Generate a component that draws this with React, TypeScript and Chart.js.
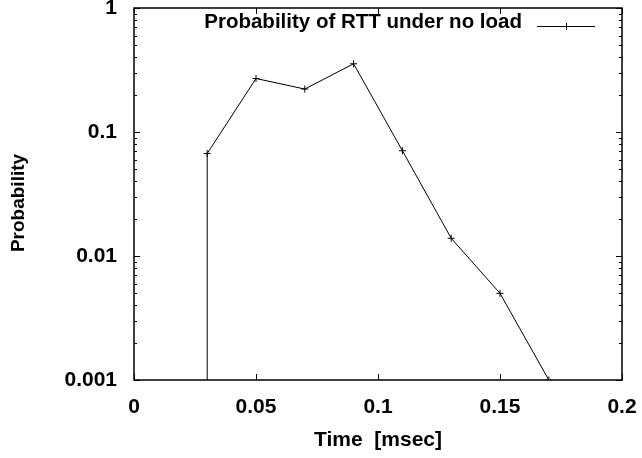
import React, { useEffect, useRef } from "react";
import { Chart, registerables } from "chart.js";

Chart.register(...registerables);

// Data
const times = [0.03, 0.03, 0.05, 0.07, 0.09, 0.11, 0.13, 0.15, 0.17];
const probabilities = [0.0001, 0.067, 0.27, 0.222, 0.355, 0.0706, 0.0139, 0.005, 0.001];
const showMarker = [false, true, true, true, true, true, true, true, true];
const xTickValues = [0, 0.05, 0.1, 0.15, 0.2];
const xTickLabels = ["0", "0.05", "0.1", "0.15", "0.2"];
const yTickValues = [0.001, 0.01, 0.1, 1];
const yTickLabels = ["0.001", "0.01", "0.1", "1"];
const seriesLabel = "Probability of RTT under no load";
const xTitle = "Time  [msec]";
const yTitle = "Probability";

const FONT = "'Liberation Sans', Arial, Helvetica, sans-serif";

const framePlugin = {
  id: "gnuplotFrame",
  afterDatasetsDraw(chart: any) {
    const { ctx, chartArea } = chart;
    const { left, right, top, bottom } = chartArea;
    const xs = chart.scales.x;
    const ys = chart.scales.y;
    ctx.save();
    ctx.strokeStyle = "#000";
    // border
    ctx.lineWidth = 1.5;
    ctx.strokeRect(left, top, right - left, bottom - top);
    ctx.lineWidth = 1;
    // x ticks (bottom & top, inward)
    xTickValues.forEach((v) => {
      const px = Math.round(xs.getPixelForValue(v)) + 0.5;
      ctx.beginPath();
      ctx.moveTo(px, bottom);
      ctx.lineTo(px, bottom - 6);
      ctx.moveTo(px, top);
      ctx.lineTo(px, top + 6);
      ctx.stroke();
    });
    // y ticks (major + minor, left & right, inward)
    for (let d = 0; d < yTickValues.length; d++) {
      const base = yTickValues[d];
      for (let m = 1; m <= 9; m++) {
        const v = base * m;
        if (v > 1.0000001) break;
        const py = Math.round(ys.getPixelForValue(v)) + 0.5;
        const len = m === 1 ? 6 : 3;
        ctx.beginPath();
        ctx.moveTo(left, py);
        ctx.lineTo(left + len, py);
        ctx.moveTo(right, py);
        ctx.lineTo(right - len, py);
        ctx.stroke();
      }
    }
    // legend
    ctx.font = `bold 20.5px ${FONT}`;
    ctx.fillStyle = "#000";
    ctx.textAlign = "right";
    ctx.textBaseline = "middle";
    ctx.fillText(seriesLabel, 522, 22);
    const ly = 26.5;
    ctx.beginPath();
    ctx.moveTo(537, ly);
    ctx.lineTo(595, ly);
    ctx.moveTo(566.5 - 3.5, ly);
    ctx.lineTo(566.5 + 3.5, ly);
    ctx.moveTo(566.5, ly - 3.5);
    ctx.lineTo(566.5, ly + 3.5);
    ctx.stroke();
    // y title
    ctx.font = `bold 19px ${FONT}`;
    ctx.translate(18.5, 203);
    ctx.rotate(-Math.PI / 2);
    ctx.textAlign = "center";
    ctx.textBaseline = "middle";
    ctx.fillText(yTitle, 0, 0);
    ctx.restore();
  },
};

const zeroPad = (s: any) => {
  s.paddingTop = 0;
  s.paddingBottom = 0;
  s.paddingLeft = 0;
  s.paddingRight = 0;
};

export default function App() {
  const ref = useRef<HTMLCanvasElement | null>(null);

  useEffect(() => {
    if (!ref.current) return;
    const data = times.map((t, i) => ({ x: t, y: probabilities[i] }));
    const chart = new Chart(ref.current, {
      type: "line",
      data: {
        datasets: [
          {
            label: seriesLabel,
            data,
            borderColor: "#000",
            backgroundColor: "#000",
            borderWidth: 1,
            pointStyle: "cross",
            pointRadius: (c: any) => (showMarker[c.dataIndex] ? 3.5 : 0),
            pointBorderWidth: 1,
            pointBorderColor: "#000",
            tension: 0,
            fill: false,
          },
        ],
      },
      options: {
        animation: false,
        responsive: false,
        maintainAspectRatio: false,
        layout: { padding: { top: 8, right: 20, left: 0, bottom: 0 } },
        plugins: {
          legend: { display: false },
          tooltip: { enabled: false },
        },
        scales: {
          x: {
            type: "linear",
            min: 0,
            max: 0.2,
            grid: { display: false, drawTicks: false },
            border: { display: false },
            afterBuildTicks: (s: any) => {
              s.ticks = xTickValues.map((v) => ({ value: v }));
            },
            afterFit: (s: any) => {
              s.height = 78;
              zeroPad(s);
            },
            ticks: {
              color: "#000",
              padding: 15,
              maxRotation: 0,
              autoSkip: false,
              font: { family: FONT, size: 21, weight: "bold" },
              callback: (_v: any, i: number) => xTickLabels[i],
            },
            title: {
              display: true,
              text: xTitle,
              color: "#000",
              padding: { top: 0, bottom: 5 },
              font: { family: FONT, size: 21, weight: "bold" },
            },
          },
          y: {
            type: "logarithmic",
            min: 0.001,
            max: 1,
            grid: { display: false, drawTicks: false },
            border: { display: false },
            afterBuildTicks: (s: any) => {
              s.ticks = yTickValues.map((v) => ({ value: v }));
            },
            afterFit: (s: any) => {
              s.width = 134;
              zeroPad(s);
            },
            ticks: {
              color: "#000",
              padding: 17,
              autoSkip: false,
              font: { family: FONT, size: 21, weight: "bold" },
              callback: (_v: any, i: number) => yTickLabels[i],
            },
          },
        },
      },
      plugins: [framePlugin],
    });
    return () => chart.destroy();
  }, []);

  return (
    <div style={{ position: "absolute", left: 0, top: 0, width: 642, height: 458, background: "#fff" }}>
      <canvas ref={ref} width={642} height={458} style={{ width: 642, height: 458 }} />
    </div>
  );
}
